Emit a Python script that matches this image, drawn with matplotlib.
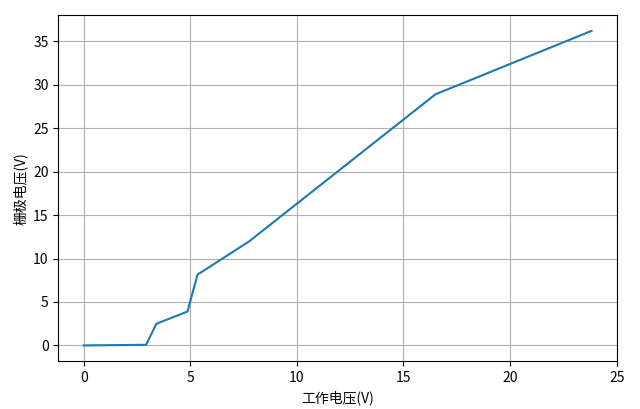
import matplotlib
matplotlib.use("Agg")
import matplotlib.pyplot as plt

plt.rcParams['font.family'] = ['Noto Sans CJK SC', 'DejaVu Sans']
plt.rcParams['axes.unicode_minus'] = False

work_voltage = [0.0, 2.93, 3.41, 4.87, 5.34, 7.76, 16.5, 23.82]
gate_voltage = [0.0, 0.07, 2.49, 3.9, 8.15, 11.97, 28.9, 36.2]

fig, ax = plt.subplots(figsize=(6.4, 4.09), dpi=100)
ax.plot(work_voltage, gate_voltage, color='#1f77b4', linewidth=1.5)
ax.set_xlabel('工作电压(V)', fontsize=10)
ax.set_ylabel('栅极电压(V)', fontsize=10)
ax.set_xticks([0, 5, 10, 15, 20, 25])
ax.set_yticks([0, 5, 10, 15, 20, 25, 30, 35])
ax.grid(True, color='#b0b0b0', linewidth=0.8)
fig.subplots_adjust(left=0.091, right=0.964, top=0.963, bottom=0.117)
fig.savefig('out.png', dpi=100)
